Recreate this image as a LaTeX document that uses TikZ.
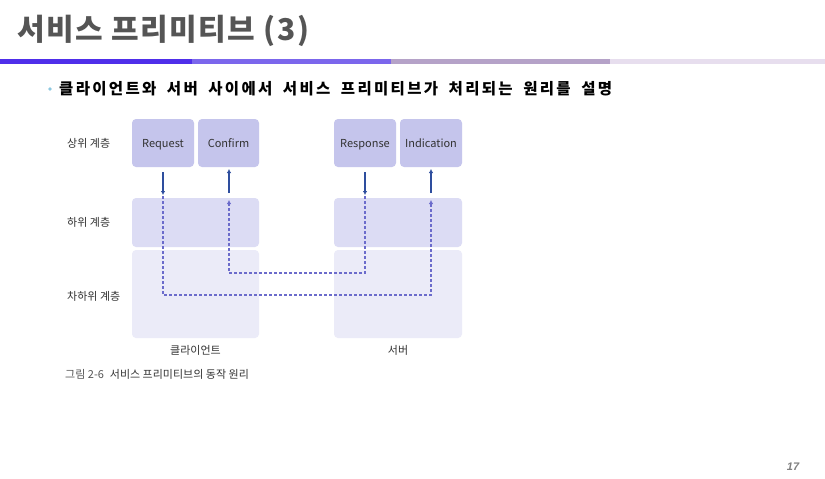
\documentclass[tikz,border=0pt]{standalone}
\usepackage{fontspec}
\newfontfamily\kr{Noto Sans CJK KR}
\newfontfamily\krwide{Noto Sans CJK KR}[LetterSpace=15, WordSpace=1.8]
\newfontfamily\krtitle{Noto Sans CJK KR}[LetterSpace=5]
\newfontfamily\lib{Liberation Sans}
\usetikzlibrary{arrows.meta}
\definecolor{titlegray}{HTML}{555555}
\definecolor{barA}{HTML}{4F2EEA}
\definecolor{barB}{HTML}{7B66EC}
\definecolor{barC}{HTML}{B5A2C8}
\definecolor{barD}{HTML}{E7DEEE}
\definecolor{bulletblue}{HTML}{8CC8E0}
\definecolor{topbox}{HTML}{C5C5EC}
\definecolor{midbox}{HTML}{DCDCF4}
\definecolor{lowbox}{HTML}{EBEBF8}
\definecolor{solidblue}{HTML}{2E4E9E}
\definecolor{dashblue}{HTML}{6B6BCB}
\definecolor{labgray}{HTML}{333333}
\begin{document}
\begin{tikzpicture}[x=1pt,y=-1pt,
  primbox/.style={rounded corners=4pt, fill=topbox, inner sep=0, minimum height=48, text height=9pt, text depth=1pt, text=labgray, font=\kr\fontsize{11}{13}\selectfont},
  layerbox/.style={rounded corners=4pt, inner sep=0},
  sidelab/.style={anchor=west, inner sep=0, text=labgray, font=\kr\fontsize{11}{12}\selectfont},
  solidarr/.style={draw=solidblue, line width=1.8pt, -{Latex[length=4pt,width=4.5pt]}},
  dasharr/.style={draw=dashblue, line width=1.5pt, dash pattern=on 3pt off 2pt, -{Latex[length=4pt,width=4.5pt]}}]
\useasboundingbox (0,0) rectangle (825,479);
\fill[white] (0,0) rectangle (825,479);
% title
\node[anchor=west, inner sep=0, text=titlegray, font=\krtitle\bfseries\fontsize{30}{33}\selectfont] (title) at (17,31) {서비스 프리미티브 (3)};
% bars
\fill[barA] (0,59) rectangle (192,64);
\fill[barB] (192,59) rectangle (391,64);
\fill[barC] (391,59) rectangle (610,64);
\fill[barD] (610,59) rectangle (825,64);
% bullet
\fill[bulletblue] (50,89) circle (1.8);
\node[anchor=west, inner sep=0, font=\krwide\bfseries\fontsize{15.5}{17}\selectfont] (sub) at (59,89) {클라이언트와 서버 사이에서 서비스 프리미티브가 처리되는 원리를 설명};
% layer boxes
\node[layerbox, fill=midbox, minimum width=127, minimum height=49] (cmid) at (195.5,222.5) {};
\node[layerbox, fill=midbox, minimum width=128, minimum height=49] (smid) at (398,222.5) {};
\node[layerbox, fill=lowbox, minimum width=127, minimum height=88] (clow) at (195.5,294) {};
\node[layerbox, fill=lowbox, minimum width=128, minimum height=88] (slow) at (398,294) {};
% primitive boxes
\node[primbox, minimum width=62] (req) at (163,143) {Request};
\node[primbox, minimum width=61] (conf) at (228.5,143) {Confirm};
\node[primbox, minimum width=62] (resp) at (365,143) {Response};
\node[primbox, minimum width=62] (ind) at (431,143) {Indication};
% side labels
\node[sidelab] (l1) at (67,143) {상위 계층};
\node[sidelab] (l2) at (67,222) {하위 계층};
\node[sidelab] (l3) at (67,296) {차하위 계층};
% bottom labels
\node[inner sep=0, text=labgray, font=\kr\fontsize{11}{12}\selectfont] (clab) at (195.5,350) {클라이언트};
\node[inner sep=0, text=labgray, font=\kr\fontsize{11}{12}\selectfont] (slab) at (398,350) {서버};
\node[anchor=west, inner sep=0, text=labgray, font=\kr\fontsize{11}{12}\selectfont] (cap) at (65,374) {{\color{titlegray}그림 2-6}\hspace{6pt}서비스 프리미티브의 동작 원리};
% solid arrows
\coordinate (a1s) at (163,172); \coordinate (a1e) at (163,195);
\coordinate (a2s) at (229,193); \coordinate (a2e) at (229,169);
\coordinate (a3s) at (365,172); \coordinate (a3e) at (365,195);
\coordinate (a4s) at (431,193); \coordinate (a4e) at (431,169);
\draw[solidarr] (a1s) -- (a1e);
\draw[solidarr] (a2s) -- (a2e);
\draw[solidarr] (a3s) -- (a3e);
\draw[solidarr] (a4s) -- (a4e);
% dashed paths
\coordinate (d1s) at (163,196); \coordinate (d1e) at (431,200);
\coordinate (d2s) at (365,196); \coordinate (d2e) at (229,200);
\draw[dasharr] (d1s) -- (163,295) -- (431,295) -- (d1e);
\draw[dasharr] (d2s) -- (365,273) -- (229,273) -- (d2e);
% page number
\node[inner sep=0, text=gray, font=\lib\bfseries\itshape\fontsize{11}{12}\selectfont] (pg) at (793,467) {17};
\end{tikzpicture}
\end{document}
